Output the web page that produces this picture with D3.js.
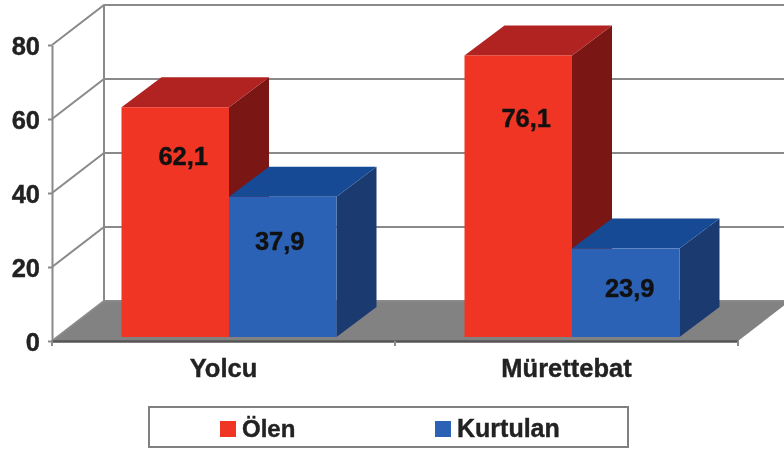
<!DOCTYPE html>
<html>
<head>
<meta charset="utf-8">
<script src="https://cdnjs.cloudflare.com/ajax/libs/d3/7.8.5/d3.min.js"></script>
<style>
  html, body { margin: 0; padding: 0; background: #fff; }
  svg { display: block; filter: blur(0.6px); }
  text { font-family: "Liberation Sans", Arial, sans-serif; font-weight: bold; fill: #222; stroke: #222; stroke-width: 0.4px; }
</style>
</head>
<body>
<div id="chart"></div>
<script>
const categories = ["Yolcu", "Mürettebat"];
const seriesNames = ["Ölen", "Kurtulan"];
const olen = [62.1, 76.1];
const kurtulan = [37.9, 23.9];
const yTicks = [0, 20, 40, 60, 80];

const w = 784;
const h = 450;
const fontSize = 25.5;

// colours: front, top, side
const colors = [
  { front: "#f03524", top: "#b02320", side: "#7a1614" },
  { front: "#2b62b6", top: "#174a94", side: "#1b3a70" }
];

const y = d3.scaleLinear().domain([0, 80]).range([341, 45]);
const x = d3.scaleBand().domain(categories).range([52, 738]);
const series = d3.scaleBand().domain(seriesNames).range([0, 215]);

// depth of the back wall and of the bars, plus the gap from the front edge of the floor
const wall = { dx: 52, dy: -40 };
const depth = { dx: 40, dy: -30 };
const gap = { dx: 5.5, dy: -4 };
const gridColor = "#8a8a8a";

const svg = d3.select("#chart").append("svg")
  .attr("width", w)
  .attr("height", h);

const poly = pts => pts.map(p => p.join(",")).join(" ");

// floor
const x0 = x.range()[0], x1 = x.range()[1], y0 = y(0);
svg.append("polygon")
  .attr("points", poly([[x0, y0], [x1, y0], [x1 + wall.dx, y0 + wall.dy], [x0 + wall.dx, y0 + wall.dy]]))
  .attr("fill", "#828282");

// gridlines, back wall and the left wall
const grid = svg.append("g")
  .attr("fill", "none")
  .attr("stroke", gridColor)
  .attr("stroke-width", 2);

grid.selectAll("path.grid")
  .data(yTicks)
  .enter()
  .append("path")
  .attr("class", "grid")
  .attr("d", d => "M" + x0 + "," + y(d) + "L" + (x0 + wall.dx) + "," + (y(d) + wall.dy) + "L" + (x1 + wall.dx) + "," + (y(d) + wall.dy));

grid.append("path")
  .attr("d", "M" + (x0 + wall.dx) + "," + (y(80) + wall.dy) + "V" + (y(0) + wall.dy));

// y axis
const yAxis = svg.append("g")
  .attr("transform", "translate(" + x0 + ",0)")
  .call(d3.axisLeft(y).tickValues(yTicks).tickSize(4).tickSizeOuter(0).tickPadding(8));
yAxis.selectAll("path, line").attr("stroke", gridColor).attr("stroke-width", 2);
yAxis.selectAll("text").attr("font-size", fontSize).style("font-family", "Liberation Sans").attr("dy", "0.36em");

// x axis, ticks go on the category boundaries
const xAxis = svg.append("g")
  .attr("transform", "translate(0," + y0 + ")")
  .call(d3.axisBottom(x).tickSize(0).tickSizeOuter(0).tickPadding(18));
xAxis.select("path").attr("stroke", "#555").attr("stroke-width", 2.5);
xAxis.selectAll("text").attr("font-size", fontSize).style("font-family", "Liberation Sans");
xAxis.selectAll("line.edge")
  .data([x0, x0 + x.step(), x1])
  .enter()
  .append("line")
  .attr("class", "edge")
  .attr("x1", d => d).attr("x2", d => d)
  .attr("y1", 0).attr("y2", 5)
  .attr("stroke", gridColor)
  .attr("stroke-width", 2);

// bars
const rows = [];
categories.forEach((c, i) => {
  rows.push({ cat: c, s: 0, value: olen[i] });
  rows.push({ cat: c, s: 1, value: kurtulan[i] });
});

const barX = d => x(d.cat) + x.bandwidth() / 2 - series.range()[1] / 2 + gap.dx + series(seriesNames[d.s]);
const barY = d => y(d.value) + gap.dy;
const base = y(0) + gap.dy;
const bw = series.bandwidth();

const bars = svg.selectAll("g.bar")
  .data(rows)
  .enter()
  .append("g")
  .attr("class", "bar");

bars.append("polygon") // side
  .attr("points", d => poly([
    [barX(d) + bw, barY(d)], [barX(d) + bw + depth.dx, barY(d) + depth.dy],
    [barX(d) + bw + depth.dx, base + depth.dy], [barX(d) + bw, base]
  ]))
  .attr("fill", d => colors[d.s].side);

bars.append("polygon") // top
  .attr("points", d => poly([
    [barX(d), barY(d)], [barX(d) + bw, barY(d)],
    [barX(d) + bw + depth.dx, barY(d) + depth.dy], [barX(d) + depth.dx, barY(d) + depth.dy]
  ]))
  .attr("fill", d => colors[d.s].top);

bars.append("rect") // front
  .attr("x", barX)
  .attr("y", barY)
  .attr("width", bw)
  .attr("height", d => base - barY(d))
  .attr("fill", d => colors[d.s].front);

// value labels sit a bit under the bar top, the amount differs per bar
const labelDrop = [58, 53, 72, 48];
const labelNudge = [8, -3, 8, 4];
bars.append("text")
  .attr("x", (d, i) => barX(d) + bw / 2 + labelNudge[i])
  .attr("y", (d, i) => barY(d) + labelDrop[i])
  .attr("text-anchor", "middle")
  .attr("font-size", fontSize)
  .style("fill", "#111")
  .style("stroke", "#111")
  .text(d => String(d.value).replace(".", ","));

// legend
const legend = svg.append("g");
legend.append("rect")
  .attr("x", 149).attr("y", 407)
  .attr("width", 479).attr("height", 40)
  .attr("fill", "#fff")
  .attr("stroke", "#808080")
  .attr("stroke-width", 2);

const legendX = [220, 435];
const legendFont = [24, 25];
const items = legend.selectAll("g.item")
  .data(seriesNames)
  .enter()
  .append("g")
  .attr("class", "item")
  .attr("transform", (d, i) => "translate(" + legendX[i] + ",421)");
items.append("rect")
  .attr("width", 16).attr("height", 16)
  .attr("fill", (d, i) => colors[i].front);
items.append("text")
  .attr("x", 22).attr("y", 16)
  .attr("font-size", (d, i) => legendFont[i])
  .text(d => d);
</script>
</body>
</html>
